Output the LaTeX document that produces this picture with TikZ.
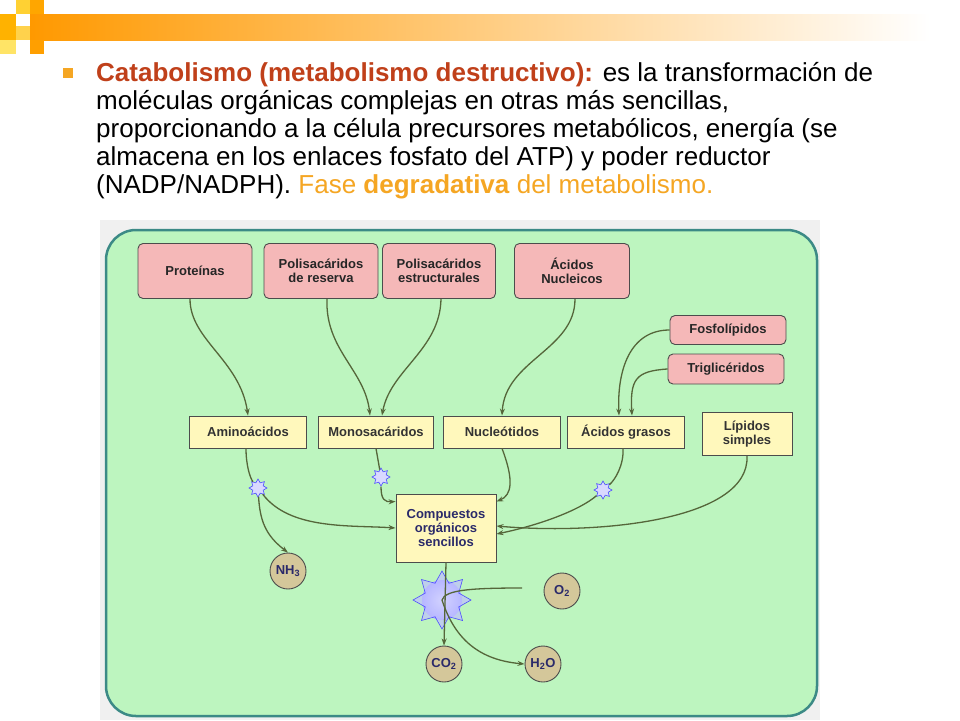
\documentclass[tikz,border=0pt]{standalone}
\usepackage{fontspec}
\setmainfont{Liberation Sans}
\usetikzlibrary{arrows.meta,shapes.geometric}
\definecolor{hred}{HTML}{C0401A}
\definecolor{horange}{HTML}{F5A623}
\definecolor{cellg}{HTML}{BDF5BF}
\definecolor{cellb}{HTML}{3C8A86}
\definecolor{pinkf}{HTML}{F5B8B8}
\definecolor{yelf}{HTML}{FFF8BC}
\definecolor{arr}{HTML}{55663A}
\definecolor{txtb}{HTML}{2A2A6A}
\definecolor{circf}{HTML}{D4C79A}
\tikzset{
 pinkbox/.style={draw=black!70,fill=pinkf,rounded corners=5pt,line width=0.9pt,font=\fontsize{13}{14}\selectfont\bfseries,align=center,text=black!85,inner sep=0pt},
 yelbox/.style={draw=black!70,fill=yelf,line width=0.9pt,font=\fontsize{13}{14}\selectfont\bfseries,align=center,text=black!80,inner sep=0pt},
 mol/.style={circle,draw=black!70,fill=circf,line width=0.9pt,minimum size=36pt,inner sep=0pt,font=\fontsize{13}{14}\selectfont\bfseries,text=txtb},
 enz/.style={star,star points=8,star point ratio=1.6,draw=blue!70,fill=blue!15,inner sep=0pt,line width=0.6pt},
 flow/.style={draw=arr,line width=1.3pt,-{Stealth[length=7pt,width=5pt]}},
 hline/.style={anchor=base west,inner sep=0pt,font=\fontsize{26}{28}\selectfont}
}
\begin{document}
\begin{tikzpicture}[x=1pt,y=-1pt]
\useasboundingbox (0,0) rectangle (960,720);
\fill[white] (0,0) rectangle (960,720);
\shade[left color=orange!80!yellow,right color=white] (30,14) rectangle (930,40);
\fill[orange!60!yellow] (0,14) rectangle (16,40);
\fill[orange!45!yellow!80] (16,0) rectangle (30,14);
\fill[orange!70!yellow] (30,0) rectangle (44,14);
\fill[orange!35!yellow!60] (0,40) rectangle (16,54);
\fill[orange!75!yellow] (30,40) rectangle (44,54);
\fill[orange!50!yellow!70] (16,26) rectangle (30,40);
\fill[horange] (63,68) rectangle (73,78);
\node[hline] (l1) at (96,81) {\textcolor{hred}{\bfseries Catabolismo (metabolismo destructivo):} es la transformación de};
\node[hline] (l2) at (96,109) {moléculas orgánicas complejas en otras más sencillas,};
\node[hline] (l3) at (96,137) {proporcionando a la célula precursores metabólicos, energía (se};
\node[hline] (l4) at (96,165) {almacena en los enlaces fosfato del ATP) y poder reductor};
\node[hline] (l5) at (96,193) {(NADP/NADPH). \textcolor{horange}{Fase \textbf{degradativa} del metabolismo.}};
\fill[black!6] (100,220) rectangle (820,720);
\draw[cellb,line width=2.5pt,fill=cellg,rounded corners=30pt] (106,230) rectangle (817,716);
\node[pinkbox,minimum width=114pt,minimum height=55pt] (prot) at (195,271) {Proteínas};
\node[pinkbox,minimum width=114pt,minimum height=55pt] (polr) at (321,271) {Polisacáridos\\de reserva};
\node[pinkbox,minimum width=113pt,minimum height=55pt] (pole) at (439,271) {Polisacáridos\\estructurales};
\node[pinkbox,minimum width=115pt,minimum height=55pt] (acn) at (572,271) {Ácidos\\Nucleicos};
\node[pinkbox,minimum width=116pt,minimum height=29pt] (fos) at (728,330) {Fosfolípidos};
\node[pinkbox,minimum width=116pt,minimum height=30pt] (tri) at (726,369) {Triglicéridos};
\node[yelbox,minimum width=117pt,minimum height=32pt] (ami) at (248,432) {Aminoácidos};
\node[yelbox,minimum width=115pt,minimum height=32pt] (mon) at (376,432) {Monosacáridos};
\node[yelbox,minimum width=117pt,minimum height=32pt] (nuc) at (502,432) {Nucleótidos};
\node[yelbox,minimum width=117pt,minimum height=32pt] (acg) at (626,432) {Ácidos grasos};
\node[yelbox,minimum width=90pt,minimum height=43pt] (lip) at (747,434) {Lípidos\\simples};
\node[yelbox,minimum width=100pt,minimum height=68pt,text=txtb] (comp) at (446,528) {Compuestos\\orgánicos\\sencillos};
\node[mol] (nh3) at (288,571) {NH\textsubscript{3}};
\node[mol] (o2) at (562,591) {O\textsubscript{2}};
\node[mol] (co2) at (444,664) {CO\textsubscript{2}};
\node[mol] (h2o) at (543,664) {H\textsubscript{2}O};
\node[enz,minimum size=18pt] (e1) at (258,488) {};
\node[enz,minimum size=18pt] (e2) at (381,477) {};
\node[enz,minimum size=18pt] (e3) at (603,490) {};
\shade[inner color=white,outer color=blue!35] (442,600) circle (20pt);
\node[enz,minimum size=58pt,fill=blue!25,fill opacity=0.7] (eb) at (442,600) {};
\draw[flow] (prot.south) ++(-5,0) .. controls (190,340) and (240,360) .. (ami.north);
\draw[flow] (polr.south) ++(6,0) .. controls (325,350) and (365,370) .. ([xshift=-6pt]mon.north);
\draw[flow] (pole.south) ++(2,0) .. controls (440,350) and (390,370) .. ([xshift=6pt]mon.north);
\draw[flow] (acn.south) ++(3,0) .. controls (575,350) and (505,360) .. (nuc.north);
\coordinate (f1) at (fos.west);
\draw[flow] (f1) .. controls (630,330) and (617,370) .. ([xshift=-7pt]acg.north);
\coordinate (t1) at (tri.west);
\draw[flow] (t1) .. controls (635,371) and (630,380) .. ([xshift=6pt]acg.north);
\draw[arr,line width=1.3pt] ([xshift=-2pt]ami.south) .. controls (246,465) and (250,478) .. (e1);
\draw[flow] (e1) .. controls (290,530) and (350,525) .. (comp.west);
\draw[flow] (e1) .. controls (260,520) and (265,535) .. (nh3.north);
\draw[arr,line width=1.3pt] (mon.south) -- (e2);
\draw[flow] (e2) .. controls (381,500) and (385,502) .. ([yshift=-8pt]comp.north west);
\draw[flow] (nuc.south) .. controls (514,480) and (512,495) .. ([yshift=-8pt]comp.north east);
\draw[arr,line width=1.3pt] ([xshift=-3pt]acg.south) .. controls (624,465) and (615,480) .. (e3);
\draw[flow] (e3) .. controls (580,510) and (540,525) .. ([yshift=-6pt]comp.east);
\draw[flow] (lip.south) .. controls (750,520) and (600,535) .. ([yshift=2pt]comp.east);
\draw[flow] (comp.south) -- (co2.north);
\coordinate (o2in) at (522,588);
\draw[arr,line width=1.3pt] (o2in) .. controls (470,588) and (445,590) .. (eb.center);
\draw[flow] (eb.center) .. controls (455,640) and (480,660) .. (h2o.west);
\end{tikzpicture}
\end{document}
